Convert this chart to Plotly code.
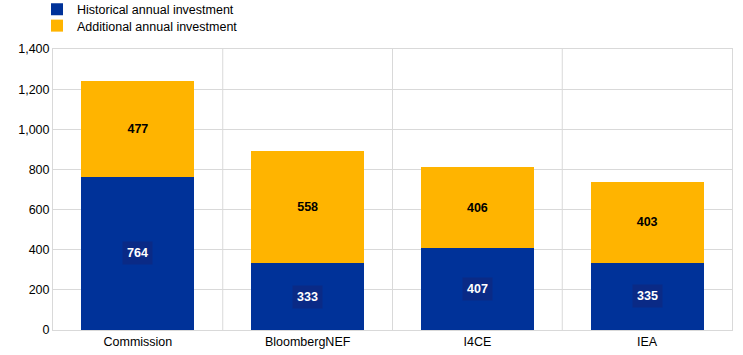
import plotly.graph_objects as go

categories = ["Commission", "BloombergNEF", "I4CE", "IEA"]
historical = [764, 333, 407, 335]
additional = [477, 558, 406, 403]
series_names = ["Historical annual investment", "Additional annual investment"]
y_ticks = [0, 200, 400, 600, 800, 1000, 1200, 1400]

BLUE = "#003299"
YELLOW = "#FFB400"
GRID = "#d9d9d9"
FONT = "Liberation Sans, Arial, sans-serif"
FS = 12.5

W, H = 743, 355

fig = go.Figure()
fig.add_trace(go.Bar(
    x=categories, y=historical, name=series_names[0],
    marker=dict(color=BLUE, line=dict(width=0)),
    hoverinfo="skip", legend="legend",
))
fig.add_trace(go.Bar(
    x=categories, y=additional, name=series_names[1],
    marker=dict(color=YELLOW, line=dict(width=0)),
    text=[str(v) for v in additional], textposition="inside",
    insidetextanchor="middle",
    textfont=dict(family=FONT, size=FS, color="#000000", weight="bold"),
    hoverinfo="skip", legend="legend2",
))

annotations = []
for c, v in zip(categories, historical):
    annotations.append(dict(
        x=c, y=v / 2, xref="x", yref="y", text="<b>%d</b>" % v,
        showarrow=False, bgcolor="#0a2a86", borderpad=4,
        font=dict(family=FONT, size=FS, color="#ffffff"),
    ))

shapes = []
for i in range(len(categories) - 1):
    shapes.append(dict(
        type="line", xref="x", yref="paper", x0=i + 0.5, x1=i + 0.5, y0=0, y1=1,
        line=dict(color=GRID, width=1), layer="below",
    ))

leg_common = dict(
    xref="container", yref="container", xanchor="left", yanchor="middle",
    orientation="v", font=dict(family=FONT, size=FS, color="#000000"),
    bgcolor="rgba(0,0,0,0)", itemwidth=30,
)

fig.update_layout(
    width=W, height=H,
    margin=dict(l=53, r=11, t=49, b=25, autoexpand=False),
    barmode="stack", bargap=0.335,
    plot_bgcolor="#ffffff", paper_bgcolor="#ffffff",
    font=dict(family=FONT, size=FS, color="#000000"),
    showlegend=True,
    legend=dict(x=37 / W, y=1 - 9.5 / H, **leg_common),
    legend2=dict(x=37 / W, y=1 - 26 / H, **leg_common),
    xaxis=dict(
        showgrid=False, showline=True, mirror=True, linecolor=GRID, linewidth=1,
        ticks="", automargin=False,
        tickfont=dict(family=FONT, size=FS, color="#000000"),
    ),
    yaxis=dict(
        range=[0, 1400], tickvals=y_ticks, ticktext=[f"{v:,}" for v in y_ticks],
        showgrid=True, gridcolor=GRID, gridwidth=1, automargin=False,
        showline=True, mirror=True, linecolor=GRID, linewidth=1,
        zeroline=False, ticks="", ticklen=0,
        tickfont=dict(family=FONT, size=FS, color="#000000"),
    ),
    annotations=annotations,
    shapes=shapes,
)

fig.write_html("out.html", config={"displayModeBar": False},
               post_script="document.body.style.margin='0px';")
